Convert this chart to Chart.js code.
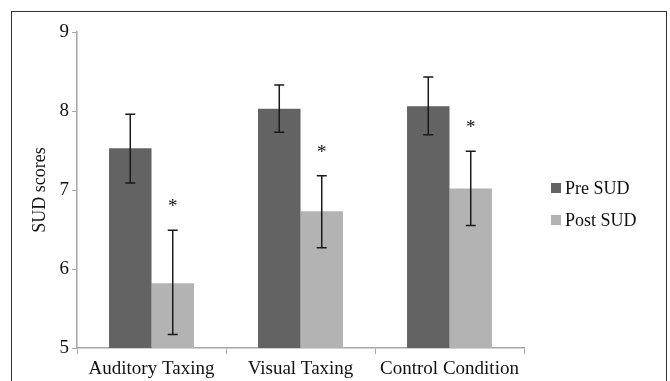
<!DOCTYPE html>
<html lang="en">
<head>
  <meta charset="UTF-8" />
  <title>SUD scores by condition</title>
  <script src="https://cdn.jsdelivr.net/npm/chart.js"></script>
  <style>
    html, body { margin: 0; padding: 0; background: #fff; }
    #wrap { position: relative; width: 670px; height: 381px; overflow: hidden; }
    #frame { position: absolute; left: 11px; top: 11px; width: 654px; height: 420px; border: 1px solid #333; }
    canvas { position: absolute; left: 0; top: 0; }
  </style>
</head>
<body>
  <div id="wrap">
    <div id="frame"></div>
    <canvas id="sudChart" width="670" height="381"></canvas>
  </div>

  <script>
  // data
  const conditions = ['Auditory Taxing', 'Visual Taxing', 'Control Condition'];
  const preSud = [7.53, 8.03, 8.06];
  const postSud = [5.82, 6.73, 7.02];
  const preLow = [7.09, 7.73, 7.70];
  const preHigh = [7.96, 8.33, 8.43];
  const postLow = [5.17, 6.27, 6.55];
  const postHigh = [6.49, 7.18, 7.49];
  const postSignificant = [true, true, true];
  const yTicks = [5, 6, 7, 8, 9];

  const serif = '"Liberation Serif", "DejaVu Serif", serif';
  const axisGray = '#a6a6a6';

  // error bars + asterisks
  const errorBars = {
    id: 'errorBars',
    afterDatasetsDraw(chart) {
      const ctx = chart.ctx;
      const y = chart.scales.y;
      const ranges = [[preLow, preHigh], [postLow, postHigh]];
      ctx.save();
      ctx.strokeStyle = '#1a1a1a';
      ctx.lineWidth = 1.5;
      ranges.forEach((r, di) => {
        chart.getDatasetMeta(di).data.forEach((bar, i) => {
          const x = bar.x;
          const top = y.getPixelForValue(r[1][i]);
          const bot = y.getPixelForValue(r[0][i]);
          ctx.beginPath();
          ctx.moveTo(x, top); ctx.lineTo(x, bot);
          ctx.moveTo(x - 5, top); ctx.lineTo(x + 5, top);
          ctx.moveTo(x - 5, bot); ctx.lineTo(x + 5, bot);
          ctx.stroke();
        });
      });
      ctx.fillStyle = '#111';
      ctx.font = '19px ' + serif;
      ctx.textAlign = 'center';
      ctx.textBaseline = 'alphabetic';
      chart.getDatasetMeta(1).data.forEach((bar, i) => {
        if (!postSignificant[i]) return;
        ctx.fillText('*', bar.x, y.getPixelForValue(postHigh[i]) - 18);
      });
      ctx.restore();
    }
  };

  // legend on the right
  const sideLegend = {
    id: 'sideLegend',
    afterDraw(chart) {
      const ctx = chart.ctx;
      ctx.save();
      ctx.font = '18px ' + serif;
      ctx.textBaseline = 'middle';
      ctx.textAlign = 'left';
      chart.data.datasets.forEach((ds, i) => {
        const yy = 188 + i * 32;
        ctx.fillStyle = ds.backgroundColor;
        ctx.fillRect(551, yy - 5, 10, 10);
        ctx.fillStyle = '#111';
        ctx.fillText(ds.label, 565, yy + 1);
      });
      ctx.restore();
    }
  };

  const ctx = document.getElementById('sudChart').getContext('2d');
  new Chart(ctx, {
    type: 'bar',
    data: {
      labels: conditions,
      datasets: [
        { label: 'Pre SUD', data: preSud, backgroundColor: '#636363' },
        { label: 'Post SUD', data: postSud, backgroundColor: '#b3b3b3' }
      ]
    },
    options: {
      responsive: false,
      animation: false,
      layout: { padding: { left: 12, top: 32, right: 146, bottom: 0 } },
      datasets: { bar: { categoryPercentage: 0.57, barPercentage: 1.0 } },
      plugins: {
        legend: { display: false },
        tooltip: { enabled: false }
      },
      scales: {
        x: {
          grid: { drawOnChartArea: false, color: axisGray, tickLength: 6, offset: true },
          border: { color: axisGray, width: 1.5 },
          ticks: { color: '#111', font: { family: serif, size: 19 }, padding: 4 },
          afterFit(scale) { scale.height = 33; }
        },
        y: {
          min: 5,
          max: 9,
          afterBuildTicks(scale) { scale.ticks = yTicks.map(v => ({ value: v })); },
          grid: { drawOnChartArea: false, color: axisGray, tickLength: 5 },
          border: { color: axisGray, width: 1.5 },
          ticks: { color: '#111', font: { family: serif, size: 19 }, padding: 3 },
          title: {
            display: true,
            text: 'SUD scores',
            color: '#111',
            font: { family: serif, size: 18 },
            padding: { top: 17, bottom: 0 }
          },
          afterFit(scale) { scale.width = 65; }
        }
      }
    },
    plugins: [errorBars, sideLegend]
  });
  </script>
</body>
</html>
